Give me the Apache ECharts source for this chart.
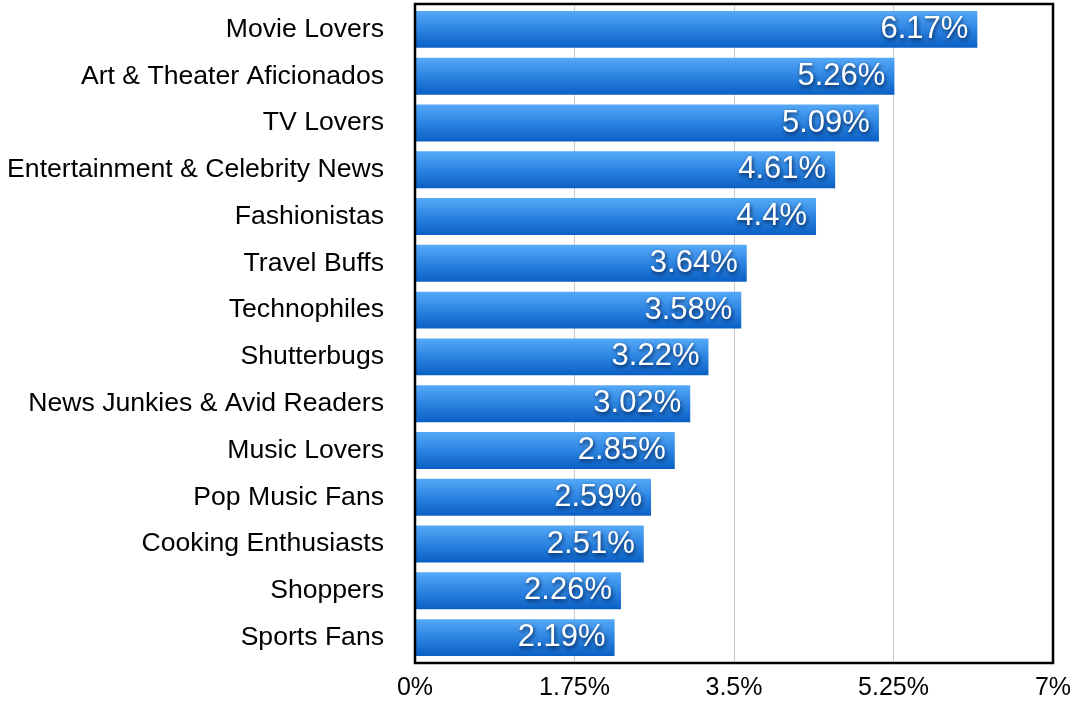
<!DOCTYPE html>
<html>
<head>
<meta charset="utf-8">
<style>
  html, body { margin: 0; padding: 0; background: #fff; }
  #chart { width: 1076px; height: 702px; }
</style>
<script src="https://cdn.jsdelivr.net/npm/echarts@6/dist/echarts.min.js"></script>
</head>
<body>
<div id="chart"></div>
<script>
// Audience interest segments, listed bottom to top on the category axis
const categories = [
  'Sports Fans', 'Shoppers', 'Cooking Enthusiasts', 'Pop Music Fans',
  'Music Lovers', 'News Junkies & Avid Readers', 'Shutterbugs', 'Technophiles',
  'Travel Buffs', 'Fashionistas', 'Entertainment & Celebrity News', 'TV Lovers',
  'Art & Theater Aficionados', 'Movie Lovers'
];
const shares = [2.19, 2.26, 2.51, 2.59, 2.85, 3.02, 3.22, 3.58, 3.64, 4.4, 4.61, 5.09, 5.26, 6.17];
const tickValues = [0, 1.75, 3.5, 5.25, 7];

const chart = echarts.init(document.getElementById('chart'));
const font = 'Liberation Sans, Helvetica, Arial, sans-serif';

chart.setOption({
  animation: false,
  grid: { left: 415, top: 6, right: 23, bottom: 41, containLabel: false },
  xAxis: {
    type: 'value',
    min: 0, max: 7, interval: 1.75,
    axisLine: { show: false },
    axisTick: { show: false },
    splitLine: { show: true, lineStyle: { color: '#c8c8c8', width: 1 } },
    axisLabel: {
      color: '#000', fontSize: 25, fontFamily: font, margin: 15,
      formatter: v => tickValues.includes(v) ? v + '%' : ''
    }
  },
  yAxis: {
    type: 'category',
    data: categories,
    axisLine: { show: false },
    axisTick: { show: false },
    axisLabel: { color: '#000', fontSize: 26.6, fontFamily: font, margin: 31 }
  },
  series: [
    {
      type: 'bar',
      data: shares,
      barCategoryGap: '21%',
      itemStyle: {
        color: new echarts.graphic.LinearGradient(0, 0, 0, 1, [
          { offset: 0, color: '#56a9f8' },
          { offset: 0.5, color: '#2c84e2' },
          { offset: 1, color: '#0a5fc4' }
        ])
      },
      label: {
        show: true,
        position: 'insideRight',
        distance: 9,
        formatter: p => p.value + '%',
        color: '#fff',
        fontSize: 31,
        fontFamily: font,
        textShadowColor: 'rgba(0,20,60,0.9)',
        textShadowBlur: 4,
        textShadowOffsetX: 1,
        textShadowOffsetY: 2
      }
    }
  ],
  graphic: [
    {
      type: 'rect',
      shape: { x: 415, y: 4, width: 638, height: 659 },
      style: { fill: 'none', stroke: '#000', lineWidth: 2.5 },
      silent: true,
      z: 100
    }
  ]
});
</script>
</body>
</html>
